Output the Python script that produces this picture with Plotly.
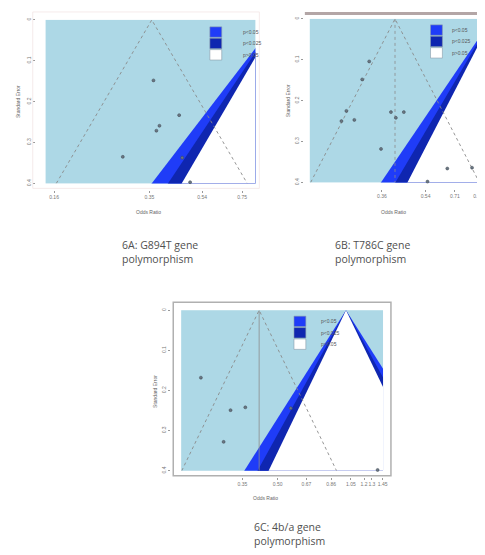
import numpy as np
import plotly.graph_objects as go

# page body has an 8px default margin: figure is drawn 8px in from the window
OFF = 8
W, H = 485 - OFF, 555 - OFF

# ---------------- data ----------------
# contour z levels (outer -> inner) and pseudo-CI z
CONTOUR_Z = [2.576, 2.241, 1.960]
PSEUDO_Z = 1.96
SE_MAX = 0.4
LEGEND_LABELS = ["p<0.05", "p<0.025", "p>0.05"]
SE_TICKS = [0, 0.1, 0.2, 0.3, 0.4]
SE_TICK_LABELS = ["0", "0.1", "0.2", "0.3", "0.4"]

# Panel A: G894T
A_logor = [-1.016, -0.805, -0.967, -0.992, -1.268, -0.780, -0.715]
A_se = [0.148, 0.233, 0.259, 0.271, 0.335, 0.337, 0.397]
A_est = -1.03
A_tick_labels = ["0.16", "0.35", "0.54", "0.75"]

# Panel B: T786C
B_logor = [-1.140, -1.205, -1.352, -1.398, -1.278, -0.938, -0.892, -0.818,
           -1.030, -0.414, -0.184, -0.598]
B_se = [0.104, 0.148, 0.225, 0.250, 0.247, 0.228, 0.242, 0.228,
        0.318, 0.366, 0.364, 0.398]
B_est = -0.90
B_tick_labels = ["0.18", "0.36", "0.54", "0.71", "0.88"]

# Panel C: 4b/a
C_logor = [-1.47, -1.17, -1.02, -1.24, -0.56, 0.32]
C_se = [0.168, 0.249, 0.242, 0.328, 0.244, 0.398]
C_est = -0.88
C_tick_labels = ["0.35", "0.50", "0.67", "0.86", "1.05", "1.2", "1.3", "1.45"]

CAPTIONS = ["6A: G894T gene<br>polymorphism",
            "6B: T786C gene<br>polymorphism",
            "6C: 4b/a gene<br>polymorphism"]
X_TITLE = "Odds Ratio"
Y_TITLE = "Standard Error"

# ---------------- styling / layout ----------------
BAND_COLORS = ["#1f3cf8", "#0f26b0", "#ffffff"]
BG = "#add8e6"
TICKFONT = dict(family="Liberation Sans", size=5, color="#777777")
SMALLFONT = dict(family="Liberation Sans", size=5, color="#666666")
DRAW_SE = SE_MAX * 1.08   # polygons drawn past the axis bottom (clipped)


def fx(px):
    return (px - OFF) / W


def fy(py):
    return 1 - (py - OFF) / H


panels = [
    dict(name="", logor=A_logor, se=A_se, est=A_est, ticks=A_tick_labels,
         xr=[-1.902, -0.179], xpix=(46, 258), ypix=(18, 183),
         yaxis_x=35, xaxis_y=190, vline=False,
         xtitle=(150, 212), ytitle=(18, 100),
         legend=(212, 25, 243), caption=(121, 252)),
    dict(name="2", logor=B_logor, se=B_se, est=B_est, ticks=B_tick_labels,
         xr=[-1.692, -0.110], xpix=(313, 485), ypix=(17, 182),
         yaxis_x=306, xaxis_y=189, vline="dot",
         xtitle=(398, 212), ytitle=(291, 100),
         legend=(435, 23, 455), caption=(336, 252)),
    dict(name="3", logor=C_logor, se=C_se, est=C_est, ticks=C_tick_labels,
         xr=[-1.67, 0.375], xpix=(183, 387), ypix=(311, 473),
         yaxis_x=172, xaxis_y=479, vline="solid",
         xtitle=(268, 501), ytitle=(157, 393),
         legend=(297, 317, 322), caption=(255, 537)),
]

fig = go.Figure()
layout = dict(width=W, height=H, margin=dict(l=0, r=0, t=0, b=0),
              paper_bgcolor="white", plot_bgcolor=BG, showlegend=False)
shapes = []
annotations = []

for idx, p in enumerate(panels):
    xa = "x" + p["name"]
    ya = "y" + p["name"]
    # contour-enhanced regions around the null (log OR = 0)
    for z, col in zip(CONTOUR_Z, BAND_COLORS):
        fig.add_trace(go.Scatter(
            x=[-z * DRAW_SE, 0, z * DRAW_SE, -z * DRAW_SE],
            y=[DRAW_SE, 0, DRAW_SE, DRAW_SE],
            fill="toself", fillcolor=col, mode="lines",
            line=dict(width=0, color=col), xaxis=xa, yaxis=ya,
            hoverinfo="skip"))
    # pseudo confidence region
    est = p["est"]
    fig.add_trace(go.Scatter(
        x=[est - PSEUDO_Z * SE_MAX, est, est + PSEUDO_Z * SE_MAX],
        y=[SE_MAX, 0, SE_MAX], mode="lines",
        line=dict(color="#8a8a8a", width=0.9, dash="dot"),
        xaxis=xa, yaxis=ya, hoverinfo="skip"))
    if p["vline"]:
        fig.add_trace(go.Scatter(
            x=[est, est], y=[0, SE_MAX], mode="lines",
            line=dict(color="#8c8c8c", width=0.8, dash=p["vline"]),
            xaxis=xa, yaxis=ya, hoverinfo="skip"))
    # studies
    fig.add_trace(go.Scatter(
        x=p["logor"], y=p["se"], mode="markers",
        marker=dict(size=3, color="#6a7682",
                    line=dict(width=0.5, color="#3d4650")),
        xaxis=xa, yaxis=ya, cliponaxis=False))

    tickvals = [float(np.log(float(t))) for t in p["ticks"]]
    x0, x1 = p["xpix"]
    y0, y1 = p["ypix"]
    layout["xaxis" + p["name"]] = dict(
        domain=[fx(x0), min(fx(x1), 1.0)], range=p["xr"], anchor="free",
        position=fy(p["xaxis_y"]), tickvals=tickvals, ticktext=p["ticks"],
        tickangle=0,
        ticks="outside", ticklen=2, tickcolor="#999999", tickwidth=0.8,
        tickfont=TICKFONT, showgrid=False, zeroline=False, showline=False,
        fixedrange=True)
    layout["yaxis" + p["name"]] = dict(
        domain=[fy(y1), fy(y0)], range=[SE_MAX, 0], anchor="free",
        position=fx(p["yaxis_x"]), tickvals=SE_TICKS, ticktext=SE_TICK_LABELS,
        tickangle=-90, ticks="outside", ticklen=2, tickcolor="#999999",
        tickwidth=0.8, tickfont=TICKFONT, showgrid=False, zeroline=False,
        showline=False, fixedrange=True)

    # axis titles
    tx, ty = p["xtitle"]
    annotations.append(dict(x=fx(tx), y=fy(ty), xref="paper", yref="paper",
                            xanchor="center", yanchor="middle",
                            text=X_TITLE, showarrow=False, font=SMALLFONT))
    tx, ty = p["ytitle"]
    annotations.append(dict(x=fx(tx), y=fy(ty), xref="paper", yref="paper",
                            xanchor="center", yanchor="middle",
                            text=Y_TITLE, showarrow=False, textangle=-90,
                            font=SMALLFONT))

    # legend boxes
    lx, ly, tlx = p["legend"]
    for i, (lab, col) in enumerate(zip(LEGEND_LABELS, BAND_COLORS)):
        by0 = ly + i * 11.5
        by1 = by0 + 10.5
        shapes.append(dict(type="rect", xref="paper", yref="paper",
                           x0=fx(lx), x1=fx(lx + 12), y0=fy(by1), y1=fy(by0),
                           fillcolor=col, line=dict(color="#8a9aa8", width=0.6)))
        annotations.append(dict(x=fx(tlx), y=fy((by0 + by1) / 2), xref="paper",
                                yref="paper", text=lab, showarrow=False,
                                xanchor="left", yanchor="middle",
                                font=dict(family="Liberation Sans", size=5,
                                          color="#555555")))
    # caption
    cx, cy = p["caption"]
    annotations.append(dict(x=fx(cx), y=fy(cy), xref="paper", yref="paper",
                            text=CAPTIONS[idx], showarrow=False,
                            xanchor="left", yanchor="middle", align="left",
                            font=dict(family="Open Sans", size=10.5, color="#505050")))

# decorative frames
shapes.append(dict(type="rect", xref="paper", yref="paper",
                   x0=fx(308), x1=1.0, y0=fy(13), y1=fy(10),
                   fillcolor="#b3a6a6", line=dict(width=0)))
shapes.append(dict(type="rect", xref="paper", yref="paper",
                   x0=fx(175), x1=fx(395), y0=fy(478), y1=fy(303),
                   line=dict(color="#b0b0b0", width=1.5)))
shapes.append(dict(type="rect", xref="paper", yref="paper",
                   x0=fx(33), x1=fx(262), y0=fy(188), y1=fy(10),
                   line=dict(color="#f2e4e4", width=0.8)))

layout["shapes"] = shapes
layout["annotations"] = annotations
fig.update_layout(**layout)
fig.write_html("out.html")
